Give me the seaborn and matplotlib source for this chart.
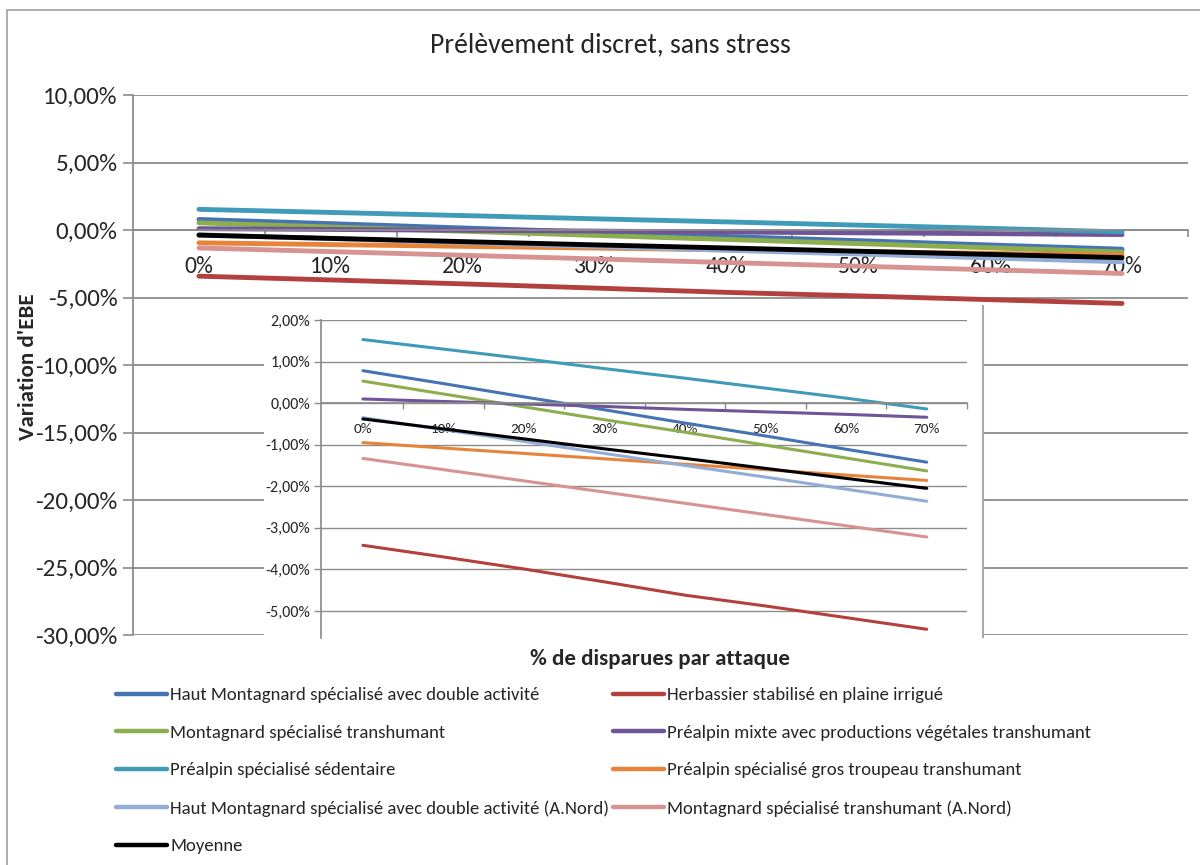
import matplotlib
matplotlib.use("Agg")
import numpy as np
import pandas as pd
import seaborn as sns
import matplotlib.pyplot as plt
from matplotlib.lines import Line2D
from matplotlib.patches import Rectangle
from matplotlib.ticker import FuncFormatter, FixedLocator

# Share of animals lost per attack (category axis)
levels = ["0%", "10%", "20%", "30%", "40%", "50%", "60%", "70%"]

# Variation of EBE (in %) for each farm type
haut_montagnard = [0.78, 0.47, 0.15, -0.16, -0.48, -0.79, -1.11, -1.42]
herbassier = [-3.42, -3.70, -3.99, -4.30, -4.62, -4.88, -5.16, -5.44]
montagnard = [0.53, 0.22, -0.09, -0.40, -0.70, -1.01, -1.32, -1.63]
prealpin_mixte = [0.10, 0.04, -0.02, -0.08, -0.15, -0.21, -0.27, -0.34]
prealpin_sedentaire = [1.53, 1.30, 1.07, 0.83, 0.60, 0.36, 0.12, -0.14]
prealpin_gros = [-0.95, -1.08, -1.21, -1.34, -1.47, -1.60, -1.73, -1.86]
haut_montagnard_nord = [-0.35, -0.64, -0.92, -1.21, -1.50, -1.78, -2.07, -2.36]
montagnard_nord = [-1.33, -1.60, -1.87, -2.14, -2.41, -2.68, -2.95, -3.22]
moyenne = [-0.38, -0.62, -0.86, -1.10, -1.33, -1.57, -1.81, -2.05]

series_names = [
    "Haut Montagnard spécialisé avec double activité",
    "Herbassier stabilisé en plaine irrigué",
    "Montagnard spécialisé transhumant",
    "Préalpin mixte avec productions végétales transhumant",
    "Préalpin spécialisé sédentaire",
    "Préalpin spécialisé gros troupeau transhumant",
    "Haut Montagnard spécialisé avec double activité (A.Nord)",
    "Montagnard spécialisé transhumant (A.Nord)",
    "Moyenne",
]
series_values = [haut_montagnard, herbassier, montagnard, prealpin_mixte,
                 prealpin_sedentaire, prealpin_gros, haut_montagnard_nord,
                 montagnard_nord, moyenne]
series_colors = ["#4674B3", "#B2403D", "#8DAE4E", "#6F5597", "#3F9BB7",
                 "#E8843A", "#93ADD6", "#D69391", "#000000"]
palette = dict(zip(series_names, series_colors))

rows = []
for name, vals in zip(series_names, series_values):
    for i, (lvl, v) in enumerate(zip(levels, vals)):
        rows.append({"serie": name, "pos": i, "niveau": lvl, "variation": v})
df = pd.DataFrame(rows)

sns.set_theme(style="white")
plt.rcParams["font.family"] = ["Carlito", "Liberation Sans Narrow", "DejaVu Sans"]

W, H = 1200, 865
fig = plt.figure(figsize=(W / 100, H / 100), dpi=100)
fig.patch.set_facecolor("white")

def fx(px):
    return px / W

def fy(py):
    return 1 - py / H

GRID = "#8C8C8C"

def pct_fmt(v, _):
    return f"{v:.2f}".replace(".", ",").replace("-0,00", "0,00") + "%"

# Outer chart border
fig.patches.append(Rectangle((fx(7), -0.02), 1.2, fy(10) + 0.02, transform=fig.transFigure,
                             fill=False, edgecolor="#A0A0A0", linewidth=1.2, zorder=0))

# ---------------- Main chart ----------------
ax = fig.add_axes([fx(133), fy(635), fx(1188) - fx(133), fy(95) - fy(635)])
sns.lineplot(data=df, x="pos", y="variation", hue="serie", hue_order=series_names,
             palette=palette, linewidth=3.5, legend=False, ax=ax, sort=False,
             solid_capstyle="round")
ax.set_xlim(-0.5, 7.5)
ax.set_ylim(-30, 10)
ax.yaxis.set_major_locator(FixedLocator(np.arange(-30, 10.1, 5)))
ax.yaxis.set_major_formatter(FuncFormatter(pct_fmt))
ax.grid(axis="y", color=GRID, linewidth=1.3)
ax.grid(axis="x", visible=False)
for s in ["top", "right"]:
    ax.spines[s].set_visible(False)
ax.spines["left"].set_color(GRID)
ax.spines["left"].set_linewidth(1.3)
ax.spines["bottom"].set_position(("data", 0))
ax.spines["bottom"].set_color(GRID)
ax.spines["bottom"].set_linewidth(1.3)
ax.xaxis.set_major_locator(FixedLocator(np.arange(0.5, 7.6, 1)))
ax.xaxis.set_major_formatter(FuncFormatter(lambda v, _: ""))
ax.set_xticks(np.arange(len(levels)), labels=levels, minor=True)
ax.tick_params(axis="x", which="major", direction="out", length=5, width=1.2, color=GRID, bottom=True)
ax.tick_params(axis="x", which="minor", length=0, pad=19, labelsize=17)
ax.tick_params(axis="y", direction="out", length=7, width=1.2, color=GRID, pad=4,
               labelsize=18, left=True)
ax.set_xlabel("")
ax.set_ylabel("")
ax.set_facecolor("white")

# ---------------- Zoomed inset ----------------
bg = fig.add_axes([fx(264), fy(637), fx(983) - fx(264), fy(306) - fy(637)])
bg.set_facecolor("white")
bg.set_xticks([])
bg.set_yticks([])
for s in ["top", "left", "bottom"]:
    bg.spines[s].set_visible(False)
bg.spines["right"].set_color("#A8A8A8")
bg.spines["right"].set_linewidth(1.5)

ins = fig.add_axes([fx(321), fy(638), fx(967) - fx(321), fy(320) - fy(638)])
sns.lineplot(data=df, x="pos", y="variation", hue="serie", hue_order=series_names,
             palette=palette, linewidth=2.2, legend=False, ax=ins, sort=False)
ins.set_xlim(-0.52, 7.5)
ins.set_ylim(-5.65, 2.0)
ins.yaxis.set_major_locator(FixedLocator(np.arange(-5, 2.1, 1)))
ins.yaxis.set_major_formatter(FuncFormatter(pct_fmt))
ins.grid(axis="y", color=GRID, linewidth=1.0)
ins.grid(axis="x", visible=False)
for s in ["top", "right"]:
    ins.spines[s].set_visible(False)
ins.spines["left"].set_color(GRID)
ins.spines["bottom"].set_position(("data", 0))
ins.spines["bottom"].set_color(GRID)
ins.xaxis.set_major_locator(FixedLocator(np.arange(0.5, 7.6, 1)))
ins.xaxis.set_major_formatter(FuncFormatter(lambda v, _: ""))
ins.set_xticks(np.arange(len(levels)), labels=levels, minor=True)
ins.tick_params(axis="x", which="major", direction="out", length=4, width=1, color=GRID, bottom=True)
ins.tick_params(axis="x", which="minor", length=0, pad=14, labelsize=11)
ins.tick_params(axis="y", direction="out", length=5, width=1, color=GRID, pad=3,
                labelsize=11.5, left=True)
ins.set_xlabel("")
ins.set_ylabel("")
ins.set_facecolor("white")

# ---------------- Texts ----------------
fig.text(fx(610), fy(45), "Prélèvement discret, sans stress", ha="center", va="center",
         fontsize=20)
fig.text(fx(28), fy(367), "Variation d'EBE", rotation=90, ha="center", va="center",
         fontsize=16.5, fontweight="bold")
fig.text(fx(660), fy(659), "% de disparues par attaque", ha="center", va="center",
         fontsize=16.5, fontweight="bold")

# ---------------- Legend (two columns, row-major order) ----------------
handles = [Line2D([0], [0], color=c, linewidth=3.2, solid_capstyle="round") for c in series_colors]
left_idx = [0, 2, 4, 6, 8]
right_idx = [1, 3, 5, 7]
common = dict(loc="upper left", frameon=False, fontsize=13.5, handlelength=2.7,
              handletextpad=0.2, labelspacing=1.15, borderpad=0, borderaxespad=0)
leg1 = fig.legend([handles[i] for i in left_idx], [series_names[i] for i in left_idx],
                  bbox_to_anchor=(fx(116), fy(687)), **common)
leg2 = fig.legend([handles[i] for i in right_idx], [series_names[i] for i in right_idx],
                  bbox_to_anchor=(fx(613), fy(687)), **common)

fig.savefig("out.png", dpi=100, facecolor="white")
